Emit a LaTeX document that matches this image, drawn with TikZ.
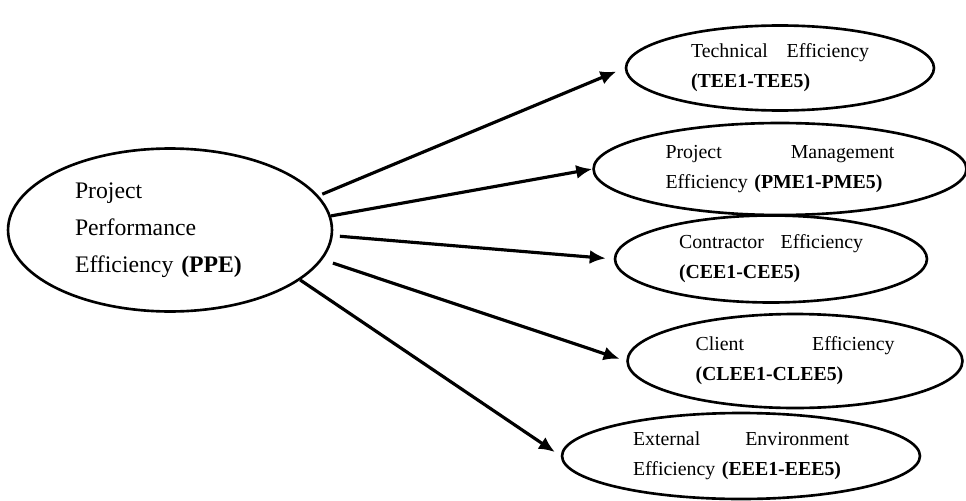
\documentclass[tikz,border=0pt]{standalone}
\usepackage{fontspec}
\setmainfont{Liberation Serif}
\usepackage{tikz}
\usetikzlibrary{arrows.meta,shapes.geometric}
\newcommand{\mainfont}{\fontsize{13.5}{21}\selectfont}
\newcommand{\satfont}{\fontsize{11.3}{17}\selectfont}

\begin{document}
\begin{tikzpicture}[
  x=0.02cm, y=-0.02cm,
  factor/.style={ellipse, draw, line width=1.5pt, inner sep=0pt,
    align=left, font=\satfont},
  arrow/.style={-{Latex[length=3.2mm,width=2.8mm]}, line width=1.8pt}
]
\useasboundingbox (0,0) rectangle (966,500);

\node (ppe) [factor, font=\mainfont, text width=3.8cm,
  minimum width=6.48cm, minimum height=3.26cm] at (170,230)
  {Project\\Performance\\Efficiency \textbf{(PPE)}};

\node (tee) [factor, text width=3.56cm,
  minimum width=6.16cm, minimum height=1.70cm] at (780,68)
  {Technical\hfill Efficiency\\\textbf{(TEE1-TEE5)}};
\node (pme) [factor, text width=4.58cm,
  minimum width=7.46cm, minimum height=1.84cm] at (780,169)
  {Project\hfill Management\\Efficiency \textbf{(PME1-PME5)}};
\node (cee) [factor, text width=3.68cm,
  minimum width=6.24cm, minimum height=1.74cm] at (771,259)
  {Contractor\hfill Efficiency\\\textbf{(CEE1-CEE5)}};
\node (clee) [factor, text width=3.98cm,
  minimum width=6.70cm, minimum height=1.88cm] at (795,361)
  {Client\hfill Efficiency\\\textbf{(CLEE1-CLEE5)}};
\node (eee) [factor, text width=4.32cm,
  minimum width=7.16cm, minimum height=1.72cm] at (741,456)
  {External\hfill Environment\\Efficiency \textbf{(EEE1-EEE5)}};

\draw[arrow, shorten <=0.08cm, shorten >=0.18cm] (ppe.13) -- (tee.west);
\draw[arrow] (ppe.5) -- (pme.west);
\draw[arrow, shorten <=0.14cm, shorten >=0.16cm] (ppe.-2) -- (cee.west);
\draw[arrow, shorten <=0.22cm, shorten >=0.14cm] (ppe.-11) -- (clee.west);
\draw[arrow, shorten >=0.14cm] (ppe.-21) -- (eee.west);
\end{tikzpicture}
\end{document}
